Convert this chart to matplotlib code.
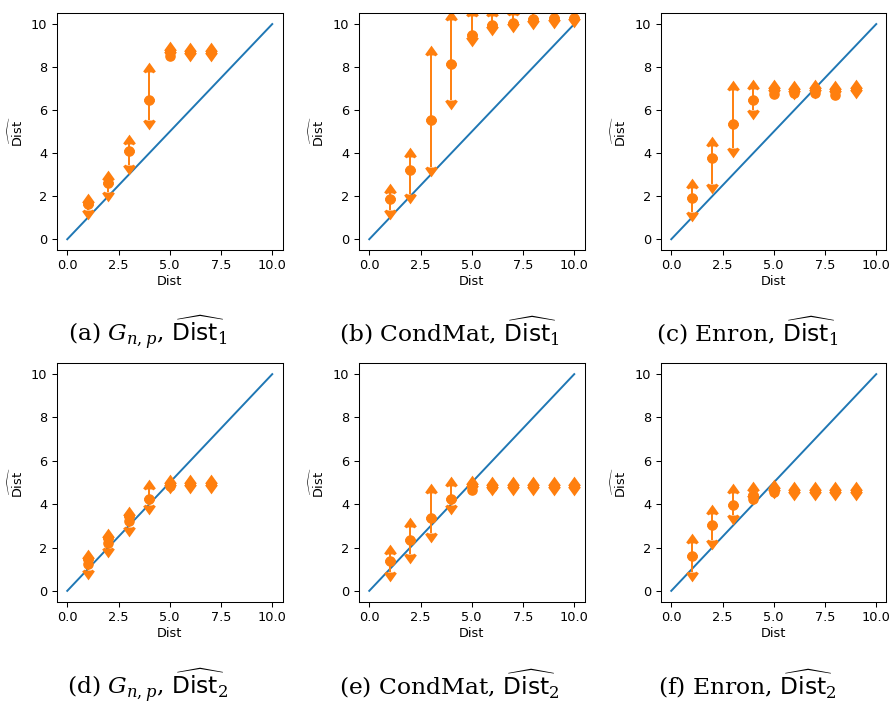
import numpy as np
import matplotlib
matplotlib.use("Agg")
import matplotlib.pyplot as plt

# ---------------- data ----------------
# (a) G_{n,p}, Dist_1
a_x = [1, 2, 3, 4, 5, 6, 7]
a_y = [1.65, 2.63, 4.11, 6.46, 8.75, 8.72, 8.72]
a_lo = [1.35, 2.20, 3.44, 5.56, 8.75, 8.72, 8.72]
a_hi = [1.70, 2.73, 4.43, 7.78, 8.75, 8.72, 8.72]
a_x2 = [5]
a_y2 = [8.52]

# (b) CondMat, Dist_1
b_x = [1, 2, 3, 4, 5, 6, 7, 8, 9, 10]
b_y = [1.87, 3.21, 5.56, 8.13, 9.47, 9.94, 10.07, 10.22, 10.27, 10.30]
b_lo = [1.35, 2.08, 3.36, 6.45, 9.42, 9.90, 10.05, 10.20, 10.25, 10.28]
b_hi = [2.14, 3.84, 8.56, 10.20, 10.38, 10.38, 10.40, 10.55, 10.60, 10.60]
b_x2 = []
b_y2 = []

# (c) Enron, Dist_1
c_x = [1, 2, 3, 4, 5, 6, 7, 8, 9]
c_y = [1.90, 3.79, 5.35, 6.46, 6.98, 6.95, 6.97, 6.95, 6.96]
c_lo = [1.27, 2.56, 4.24, 5.99, 6.98, 6.95, 6.97, 6.95, 6.96]
c_hi = [2.37, 4.31, 6.93, 6.98, 6.98, 6.95, 6.97, 6.95, 6.96]
c_x2 = [5, 6, 7, 8]
c_y2 = [6.74, 6.80, 6.80, 6.72]

# (d) G_{n,p}, Dist_2
d_x = [1, 2, 3, 4, 5, 6, 7]
d_y = [1.45, 2.45, 3.47, 4.23, 4.92, 4.95, 4.95]
d_lo = [0.98, 1.98, 2.94, 3.94, 4.92, 4.95, 4.95]
d_hi = [1.45, 2.45, 3.47, 4.68, 4.92, 4.95, 4.95]
d_x2 = [1, 2, 3, 5]
d_y2 = [1.22, 2.22, 3.23, 4.86]

# (e) CondMat, Dist_2
e_x = [1, 2, 3, 4, 5, 6, 7, 8, 9, 10]
e_y = [1.37, 2.33, 3.38, 4.26, 4.87, 4.85, 4.85, 4.85, 4.85, 4.85]
e_lo = [0.86, 1.70, 2.66, 3.94, 4.87, 4.85, 4.85, 4.85, 4.85, 4.85]
e_hi = [1.72, 2.93, 4.50, 4.84, 4.87, 4.85, 4.85, 4.85, 4.85, 4.85]
e_x2 = [5, 6]
e_y2 = [4.64, 4.78]

# (f) Enron, Dist_2
f_x = [1, 2, 3, 4, 5, 6, 7, 8, 9]
f_y = [1.59, 3.06, 3.95, 4.42, 4.68, 4.62, 4.62, 4.62, 4.62]
f_lo = [0.86, 2.35, 3.48, 4.42, 4.68, 4.62, 4.62, 4.62, 4.62]
f_hi = [2.22, 3.54, 4.53, 4.62, 4.68, 4.62, 4.62, 4.62, 4.62]
f_x2 = [4, 5]
f_y2 = [4.25, 4.56]

ref_line = [0, 10]

captions = [
    r"(a) $G_{n,p}$, $\widehat{\mathsf{Dist}}_1$",
    r"(b) CondMat, $\widehat{\mathsf{Dist}}_1$",
    r"(c) Enron, $\widehat{\mathsf{Dist}}_1$",
    r"(d) $G_{n,p}$, $\widehat{\mathsf{Dist}}_2$",
    r"(e) CondMat, $\widehat{\mathsf{Dist}}_2$",
    r"(f) Enron, $\widehat{\mathsf{Dist}}_2$",
]

panels = [
    (a_x, a_y, a_lo, a_hi, a_x2, a_y2),
    (b_x, b_y, b_lo, b_hi, b_x2, b_y2),
    (c_x, c_y, c_lo, c_hi, c_x2, c_y2),
    (d_x, d_y, d_lo, d_hi, d_x2, d_y2),
    (e_x, e_y, e_lo, e_hi, e_x2, e_y2),
    (f_x, f_y, f_lo, f_hi, f_x2, f_y2),
]

# ---------------- figure ----------------
W, H = 894, 706
fig = plt.figure(figsize=(W / 100, H / 100), dpi=100)

FS = 9.3
MS = 6.6
lefts = [57, 359, 661]
rows = [(13.3, 250.0), (363.3, 601.7)]
cap_cx = [148, 449, 747]
cap_base = [341, 694]
orange = "#ff7f0e"

for i, (x, y, lo, hi, x2, y2) in enumerate(panels):
    r, c = divmod(i, 3)
    top, bot = rows[r]
    ax = fig.add_axes([lefts[c] / W, 1 - bot / H, 225.5 / W, (bot - top) / H])
    x = np.array(x, float)
    y = np.array(y, float)
    lo = np.array(lo, float)
    hi = np.array(hi, float)
    ax.plot(ref_line, ref_line, color="C0", lw=1.4)
    cap_kw = dict(fmt="none", color=orange, ecolor=orange, elinewidth=1.4,
                  capsize=3.5, capthick=2.4)
    ax.errorbar(x, y, yerr=hi - y, lolims=True, **cap_kw)
    ax.errorbar(x, y, yerr=y - lo, uplims=True, **cap_kw)
    ax.plot(x, y, "o", color=orange, ms=MS)
    if len(x2):
        ax.plot(x2, y2, "o", color=orange, ms=MS)
    ax.set_xlim(-0.5, 10.5)
    ax.set_ylim(-0.5, 10.5)
    ax.set_xticks([0, 2.5, 5, 7.5, 10])
    ax.set_xticklabels(["0.0", "2.5", "5.0", "7.5", "10.0"])
    ax.set_yticks([0, 2, 4, 6, 8, 10])
    ax.tick_params(labelsize=FS, width=0.75, length=3.3)
    for s in ax.spines.values():
        s.set_linewidth(0.75)
    ax.set_xlabel("Dist", fontsize=FS, labelpad=2)
    ax.set_ylabel(r"$\widehat{\mathrm{Dist}}$", fontsize=FS, labelpad=4)
    fig.text(cap_cx[c] / W, 1 - cap_base[r] / H, captions[i],
             ha="center", va="baseline", fontsize=16.8,
             family="DejaVu Serif", math_fontfamily="dejavuserif")

fig.savefig("out.png", dpi=100)
